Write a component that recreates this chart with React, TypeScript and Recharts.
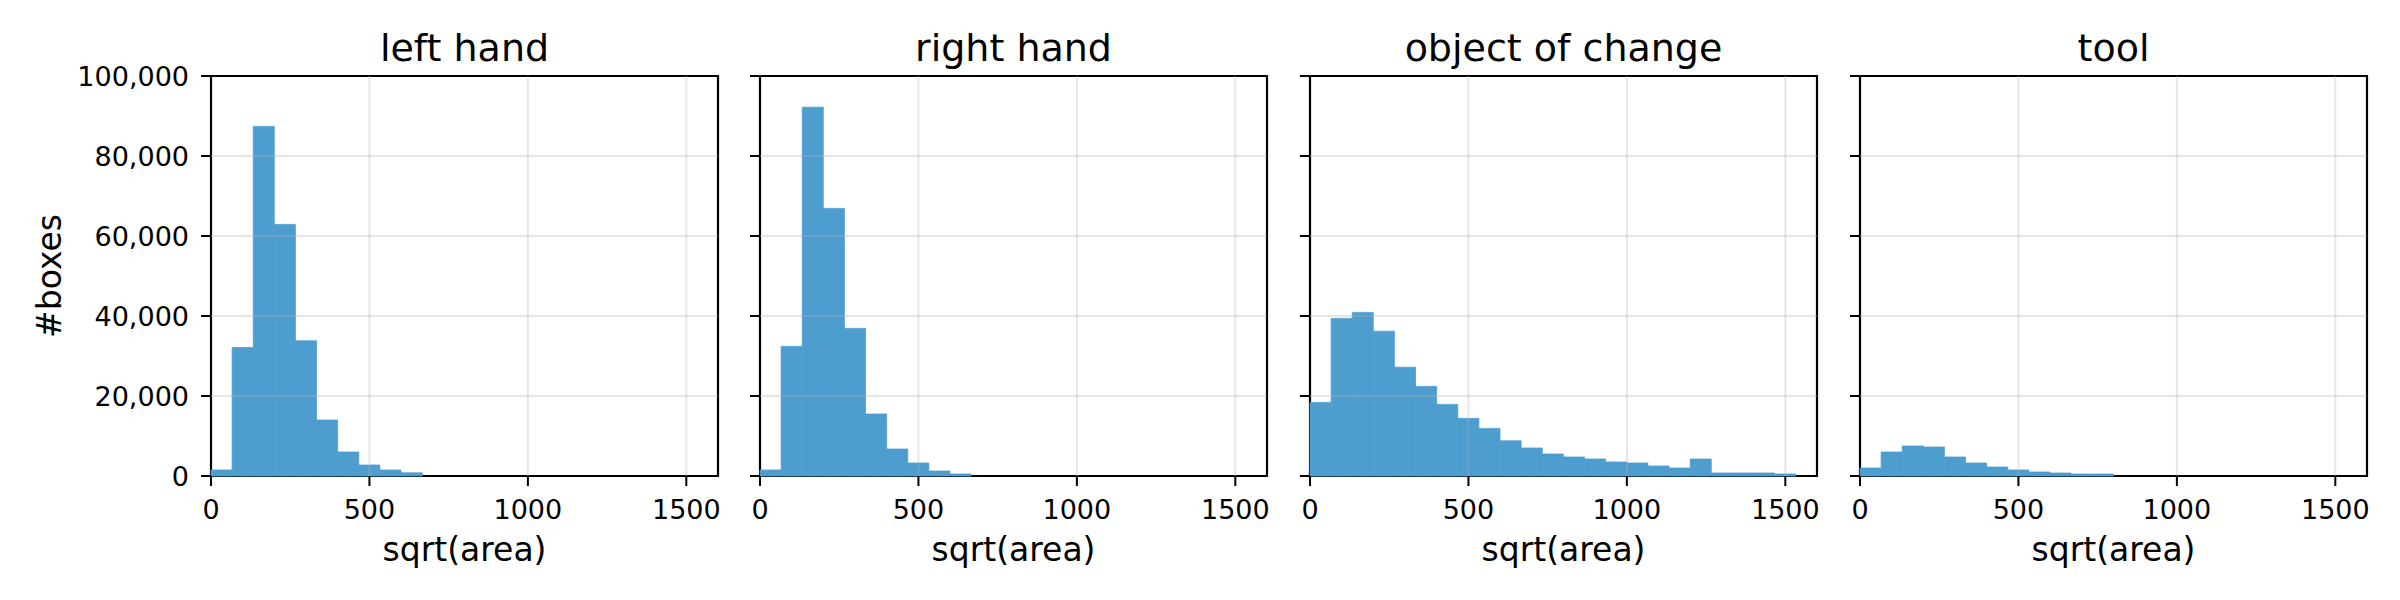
import React from "react";
import {
  BarChart, Bar, XAxis, YAxis, ReferenceLine, ReferenceArea, Label,
} from "recharts";

// bin starts of the histogram (bin width 1600/24)
const BIN_STARTS = [
  0, 66.7, 133.3, 200, 266.7, 333.3, 400, 466.7, 533.3, 600, 666.7, 733.3,
  800, 866.7, 933.3, 1000, 1066.7, 1133.3, 1200, 1266.7, 1333.3, 1400, 1466.7, 1533.3,
];

const LEFT_HAND = [
  1500, 32100, 87400, 62900, 33800, 14000, 6000, 2750, 1500, 800, 0, 0,
  0, 0, 0, 0, 0, 0, 0, 0, 0, 0, 0, 0,
];
const RIGHT_HAND = [
  1500, 32400, 92200, 66900, 36900, 15500, 6750, 3250, 1250, 500, 0, 0,
  0, 0, 0, 0, 0, 0, 0, 0, 0, 0, 0, 0,
];
const OBJECT_OF_CHANGE = [
  18400, 39400, 40900, 36200, 27200, 22400, 17900, 14400, 11900, 8800, 7000, 5500,
  4750, 4250, 3500, 3250, 2500, 2000, 4250, 750, 750, 750, 500, 0,
];
const TOOL = [
  2000, 6000, 7500, 7250, 4750, 3250, 2250, 1500, 1000, 750, 500, 500,
  0, 0, 0, 0, 0, 0, 0, 0, 0, 0, 0, 0,
];

const TITLES = ["left hand", "right hand", "object of change", "tool"];
const SERIES = [LEFT_HAND, RIGHT_HAND, OBJECT_OF_CHANGE, TOOL];

const X_TICKS = [0, 500, 1000, 1500];
const Y_TICKS = [0, 20000, 40000, 60000, 80000, 100000];

const PLOT_LEFT = [211, 760, 1310, 1860];
const PLOT_W = 507;
const PLOT_TOP = 76;
const PLOT_BOTTOM = 476;
const Y_AXIS_W = 180;
const X_AXIS_H = 90;
const RIGHT_PAD = 20;
const TICK_LEN = 10;
const X_TICK_GAP = 14;
const Y_TICK_GAP = 12;

const FONT = "DejaVu Sans";
const BAR = "#4e9dcf";
const GRID = "rgba(176,176,176,0.32)";

// tick mark + label drawn together (matplotlib style, outward ticks)
function XTick(props: any) {
  const { x, y, payload } = props;
  const y0 = y - X_TICK_GAP - TICK_LEN;
  return (
    <g>
      <line x1={x} x2={x} y1={y0} y2={y0 + TICK_LEN} stroke="#000" strokeWidth={2} />
      <text x={x} y={y} dy="0.71em" textAnchor="middle" fill="#000" fontSize={27} fontFamily={FONT}>
        {payload.value}
      </text>
    </g>
  );
}

function makeYTick(showLabel: boolean) {
  return (props: any) => {
    const { x, y, payload } = props;
    const x0 = x + Y_TICK_GAP;
    return (
      <g>
        <line x1={x0} x2={x0 + TICK_LEN} y1={y} y2={y} stroke="#000" strokeWidth={2} />
        {showLabel && (
          <text x={x} y={y} dy="0.355em" textAnchor="end" fill="#000" fontSize={27} fontFamily={FONT}>
            {Number(payload.value).toLocaleString("en-US")}
          </text>
        )}
      </g>
    );
  };
}

function Panel({ title, values, showY, left }: { title: string; values: number[]; showY: boolean; left: number }) {
  const data = BIN_STARTS.map((b, i) => ({ bin: b, count: values[i] }));
  const w = Y_AXIS_W + PLOT_W + RIGHT_PAD;
  const h = 600;
  return (
    <div style={{ position: "absolute", left: left - Y_AXIS_W, top: 0, width: w, height: h }}>
      <div style={{
        position: "absolute", left: Y_AXIS_W, top: 29, width: PLOT_W, textAlign: "center",
        fontFamily: FONT, fontSize: 38, lineHeight: "38px", color: "#000", whiteSpace: "nowrap",
      }}>{title}</div>
      <BarChart width={w} height={h} data={data} barCategoryGap={0} barGap={0}
        margin={{ top: PLOT_TOP, right: RIGHT_PAD, bottom: h - PLOT_BOTTOM - X_AXIS_H, left: 0 }}>
        <XAxis xAxisId="num" dataKey="bin" type="number" domain={[0, 1600]} allowDataOverflow
          ticks={X_TICKS} height={X_AXIS_H} axisLine={false} tickLine={false}
          tickSize={TICK_LEN} tickMargin={X_TICK_GAP} tick={<XTick />}>
          <Label value="sqrt(area)" position="insideBottom" offset={5}
            style={{ fill: "#000", fontSize: 33, fontFamily: FONT }} />
        </XAxis>
        <XAxis xAxisId="cat" dataKey="bin" type="category" hide height={0} />
        <YAxis domain={[0, 100000]} ticks={Y_TICKS} width={Y_AXIS_W} axisLine={false} tickLine={false}
          tickSize={TICK_LEN} tickMargin={Y_TICK_GAP} tick={makeYTick(showY)}>
          {showY && (
            <Label content={(props: any) => {
              const vb = props.viewBox || { x: 0, y: PLOT_TOP, height: PLOT_BOTTOM - PLOT_TOP };
              const x = vb.x + 30;
              const y = vb.y + vb.height / 2;
              return (
                <text x={x} y={y} transform={`rotate(-90, ${x}, ${y})`} textAnchor="middle"
                  fill="#000" fontSize={33} fontFamily={FONT}>#boxes</text>
              );
            }} />
          )}
        </YAxis>
        <Bar xAxisId="cat" dataKey="count" fill={BAR} stroke={BAR} strokeWidth={0.8}
          isAnimationActive={false} />
        {X_TICKS.slice(1).map(t => (
          <ReferenceLine key={`vx${t}`} xAxisId="num" x={t} stroke={GRID} strokeWidth={2} />
        ))}
        {Y_TICKS.slice(1, -1).map(t => (
          <ReferenceLine key={`hy${t}`} xAxisId="num" y={t} stroke={GRID} strokeWidth={2} />
        ))}
        <ReferenceArea xAxisId="num" x1={0} x2={1600} y1={0} y2={100000} ifOverflow="visible"
          fill="none" fillOpacity={0} stroke="#000" strokeWidth={2.2} />
      </BarChart>
    </div>
  );
}

export default function App() {
  return (
    <div style={{ position: "absolute", left: 0, top: 0, width: 2400, height: 600, background: "#fff" }}>
      {TITLES.map((t, i) => (
        <Panel key={t} title={t} values={SERIES[i]} showY={i === 0} left={PLOT_LEFT[i]} />
      ))}
    </div>
  );
}
